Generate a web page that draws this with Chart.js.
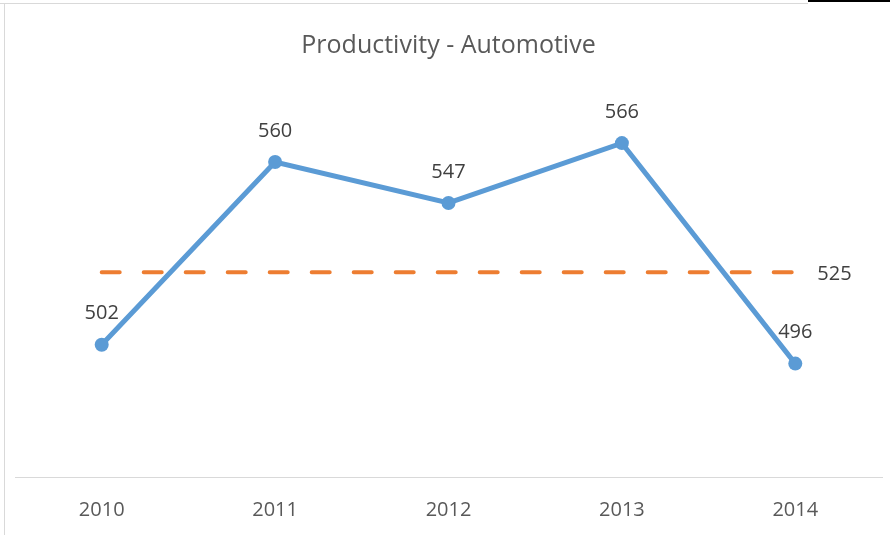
<!DOCTYPE html>
<html>
<head>
<meta charset="utf-8">
<script src="https://cdn.jsdelivr.net/npm/chart.js@4.4.0/dist/chart.umd.min.js"></script>
<style>
  body { margin: 0; background: #fff; }
  #wrap { position: relative; width: 890px; height: 535px; }
  #chart { display: block; }
  #edgeTop { position: absolute; left: 0; top: 3px; width: 808px; height: 1px; background: #d9d9d9; }
  #edgeBlack { position: absolute; left: 808px; top: 0; width: 82px; height: 2px; background: #000; }
  #edgeLeft { position: absolute; left: 4px; top: 3px; width: 1px; height: 532px; background: #d9d9d9; }
</style>
</head>
<body>
<div id="wrap">
  <canvas id="chart" width="890" height="535"></canvas>
  <div id="edgeTop"></div>
  <div id="edgeBlack"></div>
  <div id="edgeLeft"></div>
</div>
<script>
// chart data
const years = ["2010", "2011", "2012", "2013", "2014"];
const productivity = [502, 560, 547, 566, 496];
const average = [525, 525, 525, 525, 525];

// draw value labels next to the points
const valueLabels = {
  id: "valueLabels",
  afterDatasetsDraw(chart) {
    const ctx = chart.ctx;
    ctx.save();
    ctx.font = "20px 'Open Sans'";
    ctx.fillStyle = "#404040";
    ctx.textAlign = "center";
    ctx.textBaseline = "middle";

    chart.getDatasetMeta(0).data.forEach((pt, i) => {
      ctx.fillText(String(productivity[i]), pt.x, pt.y - 31);
    });

    // average only labelled at the last point, to the right
    const avgPts = chart.getDatasetMeta(1).data;
    const last = avgPts[avgPts.length - 1];
    ctx.textAlign = "left";
    ctx.fillText(String(average[average.length - 1]), last.x + 22, last.y + 2);
    ctx.restore();
  },
};

new Chart(document.getElementById("chart").getContext("2d"), {
  type: "line",
  data: {
    labels: years,
    datasets: [
      {
        label: "Productivity",
        data: productivity,
        borderColor: "#5B9BD5",
        backgroundColor: "#5B9BD5",
        borderWidth: 5,
        pointRadius: 7,
        pointHoverRadius: 7,
        pointBorderWidth: 0,
        tension: 0,
        order: 0,
      },
      {
        label: "Average",
        data: average,
        borderColor: "#ED7D31",
        borderWidth: 4,
        borderDash: [18, 24],
        borderCapStyle: "round",
        pointRadius: 0,
        tension: 0,
        order: 1,
      },
    ],
  },
  options: {
    responsive: false,
    animation: false,
    layout: { padding: { left: 15, right: 8, top: 0, bottom: -8 } },
    scales: {
      x: {
        offset: true,
        grid: { display: false, drawTicks: false },
        border: { display: true, color: "#D9D9D9", width: 1 },
        ticks: { color: "#595959", font: { family: "'Open Sans'", size: 20 }, padding: 21 },
      },
      y: {
        display: false,
        min: 460,
        max: 580,
      },
    },
    plugins: {
      legend: { display: false },
      tooltip: { enabled: false },
      title: {
        display: true,
        text: "Productivity - Automotive",
        color: "#595959",
        font: { family: "'Open Sans'", size: 25, weight: "normal" },
        padding: { top: 31, bottom: 38 },
      },
    },
  },
  plugins: [valueLabels],
});
</script>
</body>
</html>
